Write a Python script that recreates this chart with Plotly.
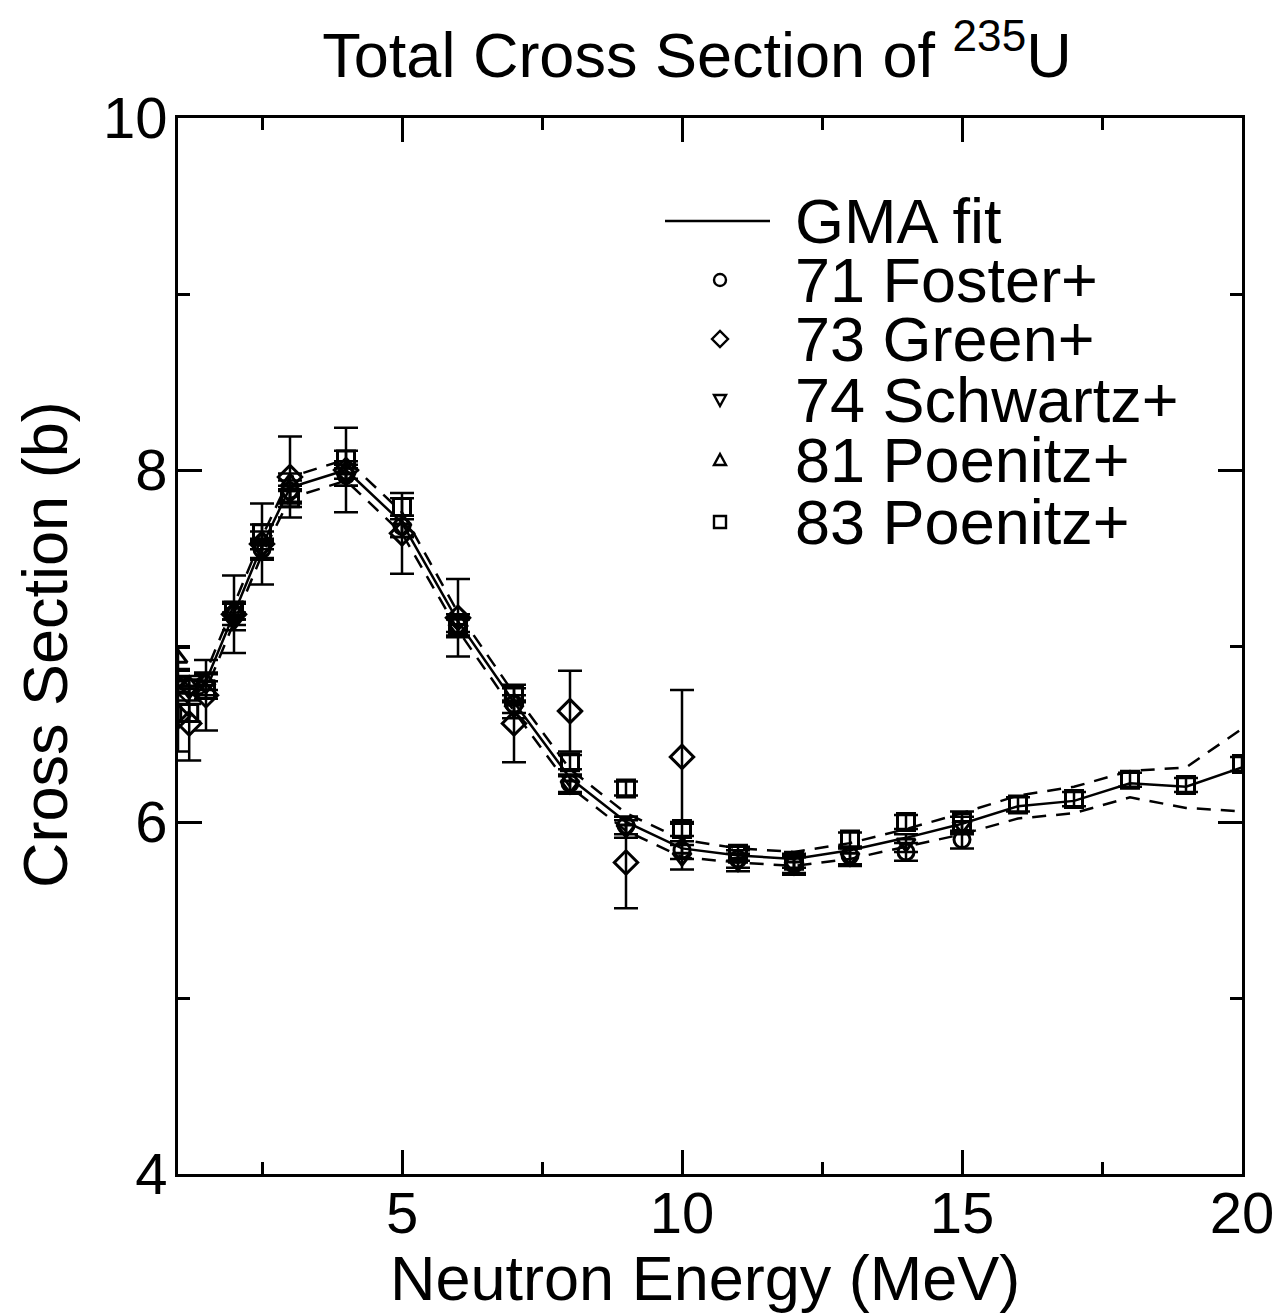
import plotly.graph_objects as go

# ---------------- data ----------------
energy_fit = [1.0, 1.2, 1.5, 2.0, 2.5, 3.0, 4.0, 5.0, 6.0, 7.0, 8.0, 9.0, 10.0,
              11.0, 12.0, 13.0, 14.0, 15.0, 16.0, 17.0, 18.0, 19.0, 20.0]
gma_fit = [6.78, 6.72, 6.80, 7.19, 7.57, 7.90, 8.00, 7.70, 7.14, 6.68, 6.25, 6.00, 5.85,
           5.81, 5.79, 5.84, 5.91, 5.99, 6.09, 6.12, 6.22, 6.20, 6.31]
gma_upper = [6.83, 6.77, 6.85, 7.23, 7.62, 7.96, 8.06, 7.76, 7.19, 6.73, 6.30, 6.05, 5.90,
             5.85, 5.83, 5.88, 5.96, 6.05, 6.15, 6.20, 6.29, 6.31, 6.53]
gma_lower = [6.73, 6.67, 6.75, 7.14, 7.52, 7.84, 7.94, 7.64, 7.09, 6.63, 6.20, 5.95, 5.80,
             5.77, 5.75, 5.79, 5.86, 5.93, 6.02, 6.05, 6.14, 6.08, 6.06]

foster_e = [2.0, 2.5, 3.0, 4.0, 5.0, 6.0, 7.0, 8.0, 9.0, 10.0, 11.0, 12.0, 13.0, 14.0, 15.0]
foster_xs = [7.18, 7.55, 7.88, 7.97, 7.68, 7.12, 6.67, 6.22, 5.98, 5.84, 5.79, 5.76, 5.81, 5.83, 5.90]
foster_err = [0.06, 0.06, 0.06, 0.06, 0.06, 0.06, 0.05, 0.05, 0.05, 0.05, 0.05, 0.05, 0.05, 0.05, 0.05]

green_e = [1.0, 1.2, 1.5, 2.0, 2.5, 3.0, 4.0, 5.0, 6.0, 7.0, 8.0, 9.0, 10.0]
green_xs = [6.60, 6.56, 6.72, 7.18, 7.58, 7.96, 8.00, 7.64, 7.16, 6.56, 6.63, 5.77, 6.37]
green_err = [0.20, 0.21, 0.20, 0.22, 0.23, 0.23, 0.24, 0.23, 0.22, 0.22, 0.23, 0.26, 0.38]

schwartz_e = [1.0, 1.2, 1.5, 2.0, 2.5, 3.0, 4.0, 5.0, 6.0, 7.0, 8.0, 9.0, 10.0,
              11.0, 12.0, 13.0, 14.0, 15.0]
schwartz_xs = [6.80, 6.75, 6.78, 7.14, 7.55, 7.86, 7.96, 7.67, 7.10, 6.64, 6.21, 5.96, 5.80,
               5.77, 5.75, 5.80, 5.88, 5.98]
schwartz_err = [0.06, 0.06, 0.06, 0.05, 0.05, 0.05, 0.05, 0.05, 0.05, 0.05, 0.05, 0.05, 0.07,
                0.05, 0.05, 0.05, 0.05, 0.05]

poenitz81_e = [1.0, 1.2, 1.5, 2.0, 2.5, 3.0, 4.0]
poenitz81_xs = [6.93, 6.78, 6.80, 7.20, 7.60, 7.93, 8.00]
poenitz81_err = [0.06, 0.05, 0.05, 0.05, 0.05, 0.05, 0.05]

poenitz83_e = [1.2, 1.5, 2.0, 2.5, 3.0, 4.0, 5.0, 6.0, 7.0, 8.0, 9.0, 10.0, 11.0,
               12.0, 13.0, 14.0, 15.0, 16.0, 17.0, 18.0, 19.0, 20.0]
poenitz83_xs = [6.62, 6.75, 7.20, 7.64, 7.84, 8.06, 7.79, 7.12, 6.72, 6.34, 6.19, 5.96, 5.82,
                5.78, 5.90, 6.00, 6.00, 6.10, 6.13, 6.24, 6.21, 6.33]
poenitz83_err = [0.05, 0.05, 0.05, 0.05, 0.05, 0.05, 0.05, 0.04, 0.04, 0.04, 0.04, 0.04, 0.04,
                 0.04, 0.04, 0.04, 0.06, 0.04, 0.04, 0.04, 0.04, 0.04]

legend_names = ["GMA fit", "71 Foster+", "73 Green+", "74 Schwartz+", "81 Poenitz+", "83 Poenitz+"]
x_ticks = [5, 10, 15, 20]
y_ticks = [4, 6, 8, 10]
chart_title = "Total Cross Section of <sup>235</sup>U"
x_title = "Neutron Energy (MeV)"
y_title = "Cross Section (b)"

# ---------------- figure ----------------
W, H = 1280, 1316
ML, MR, MT, MB = 178, 38, 118, 142
FONT = "Liberation Sans, Arial, Helvetica, sans-serif"
BLACK = "#000000"
BIG = 63

fig = go.Figure()

DASH = "14px,10px"
fig.add_trace(go.Scatter(x=energy_fit, y=gma_upper, mode="lines",
                         line=dict(color=BLACK, width=2.5, dash=DASH), showlegend=False))
fig.add_trace(go.Scatter(x=energy_fit, y=gma_lower, mode="lines",
                         line=dict(color=BLACK, width=2.5, dash=DASH), showlegend=False))
fig.add_trace(go.Scatter(x=energy_fit, y=gma_fit, mode="lines", name=legend_names[0],
                         line=dict(color=BLACK, width=2.5), showlegend=False))

sets = [
    (foster_e, foster_xs, foster_err, "circle-open", 16, legend_names[1]),
    (green_e, green_xs, green_err, "diamond-open", 18, legend_names[2]),
    (schwartz_e, schwartz_xs, schwartz_err, "triangle-down-open", 16, legend_names[3]),
    (poenitz81_e, poenitz81_xs, poenitz81_err, "triangle-up-open", 16, legend_names[4]),
    (poenitz83_e, poenitz83_xs, poenitz83_err, "square-open", 17, legend_names[5]),
]
for ex, ys, er, sym, sz, nm in sets:
    fig.add_trace(go.Scatter(
        x=ex, y=ys, mode="markers", name=nm, showlegend=False,
        marker=dict(symbol=sym, size=sz, color=BLACK, line=dict(color=BLACK, width=3)),
        error_y=dict(type="data", array=er, visible=True, color=BLACK, thickness=2.5, width=12),
    ))

# ---------------- helpers for pixel placement ----------------
plot_w = W - ML - MR
plot_h = H - MT - MB

def px_x(px):
    return (px - ML) / plot_w

def px_y(py):
    return (H - MB - py) / plot_h

# ---------------- manual legend ----------------
row_y = [221, 280, 339, 400, 460, 522]
sym_x = 720
text_x = 793

shapes = []
shapes.append(dict(type="line", xref="paper", yref="paper",
                   x0=px_x(665), x1=px_x(770), y0=px_y(row_y[0]), y1=px_y(row_y[0]),
                   line=dict(color=BLACK, width=2.5)))

def pix_path(path, yrow):
    return dict(type="path", xref="paper", yref="paper", xsizemode="pixel", ysizemode="pixel",
                xanchor=px_x(sym_x), yanchor=px_y(yrow), path=path,
                line=dict(color=BLACK, width=2.4))

shapes.append(dict(type="circle", xref="paper", yref="paper", xsizemode="pixel", ysizemode="pixel",
                   xanchor=px_x(sym_x), yanchor=px_y(row_y[1]), x0=-6, x1=6, y0=-6, y1=6,
                   line=dict(color=BLACK, width=2.4)))
shapes.append(pix_path("M -8 0 L 0 8 L 8 0 L 0 -8 Z", row_y[2]))
shapes.append(pix_path("M -6 5 L 6 5 L 0 -6 Z", row_y[3]))
shapes.append(pix_path("M -6 -5 L 6 -5 L 0 6 Z", row_y[4]))
shapes.append(dict(type="rect", xref="paper", yref="paper", xsizemode="pixel", ysizemode="pixel",
                   xanchor=px_x(sym_x), yanchor=px_y(row_y[5]), x0=-6, x1=6, y0=-6, y1=6,
                   line=dict(color=BLACK, width=2.4)))

annotations = []
for nm, yr in zip(legend_names, row_y):
    annotations.append(dict(text=nm, xref="paper", yref="paper", x=px_x(text_x), y=px_y(yr),
                            xanchor="left", yanchor="middle", showarrow=False,
                            font=dict(family=FONT, size=BIG, color=BLACK)))

# axis titles
annotations.append(dict(text=x_title, xref="paper", yref="paper", x=px_x(705), y=px_y(1278),
                        xanchor="center", yanchor="middle", showarrow=False,
                        font=dict(family=FONT, size=BIG, color=BLACK)))
annotations.append(dict(text=y_title, xref="paper", yref="paper", x=px_x(45), y=px_y(645),
                        xanchor="center", yanchor="middle", showarrow=False, textangle=-90,
                        font=dict(family=FONT, size=BIG, color=BLACK)))

axis_common = dict(
    showgrid=False, zeroline=False, showline=True, linecolor=BLACK, linewidth=3,
    mirror="ticks", ticks="inside", tickcolor=BLACK, tickwidth=2.5, ticklen=24,
    tickfont=dict(family=FONT, size=58, color=BLACK), automargin=False,
)

fig.update_layout(
    width=W, height=H,
    margin=dict(l=ML, r=MR, t=MT, b=MB, autoexpand=False),
    paper_bgcolor="white", plot_bgcolor="white",
    font=dict(family=FONT, color=BLACK),
    title=dict(text=chart_title, xref="paper", x=px_x(697), xanchor="center",
               yref="container", y=1 - 55 / H, yanchor="middle",
               font=dict(family=FONT, size=BIG, color=BLACK)),
    xaxis=dict(range=[1, 20], tickmode="array", tickvals=x_ticks,
               minor=dict(ticks="inside", dtick=2.5, tick0=0, ticklen=12, tickwidth=2.5, tickcolor=BLACK),
               ticklabelstandoff=-14, **axis_common),
    yaxis=dict(range=[4, 10], tickmode="array", tickvals=y_ticks,
               minor=dict(ticks="inside", dtick=1, tick0=0, ticklen=12, tickwidth=2.5, tickcolor=BLACK),
               ticklabelstandoff=-4, **axis_common),
    shapes=shapes, annotations=annotations, showlegend=False,
)

fig.write_html("out.html")
